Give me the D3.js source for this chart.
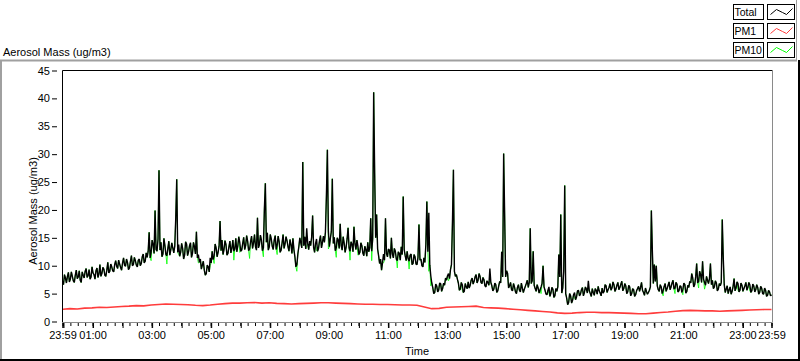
<!DOCTYPE html>
<html><head><meta charset="utf-8">
<script src="https://cdn.jsdelivr.net/npm/d3@7"></script>
<style>
html,body{margin:0;padding:0;background:#fff;}
svg{display:block;font-family:"Liberation Sans",Arial,sans-serif;font-size:11px;}
</style></head><body>
<svg id="chart" width="800" height="361"></svg>
<script>
// ---------- data ----------
const seriesNames = ["Total", "PM1", "PM10"];
const seriesColors = ["#000000", "#ff3c3c", "#00ff00"];
const startTime = "2000-01-01T23:59";
const endTime = "2000-01-02T23:59";
const yTicks = [0, 5, 10, 15, 20, 25, 30, 35, 40, 45];
const xTickLabels = ["23:59","01:00","03:00","05:00","07:00","09:00","11:00","13:00","15:00","17:00","19:00","21:00","23:00","23:59"];
const yTitle = "Aerosol Mass (ug/m3)";
const xTitle = "Time";

// Total, one reading every 2 minutes from 23:59
const totalStepMin = 2;
const totalValues = [
7.2,6.6,8.4,7.8,6.9,8.1,8.8,7.1,7.6,8.9,8.1,7.3,7.0,8.3,9.2,7.7,8.0,9.1,7.4,7.0,8.9,8.3,7.8,9.0,9.5,7.9,8.2,9.3,7.6,8.0,9.8,8.7,8.4,7.6,9.1,9.6,7.9,8.5,10.2,8.1,8.6,9.7,9.4,8.3,8.1,9.2,10.6,8.7,9.0,
10.3,9.8,9.1,8.9,10.2,10.9,9.9,9.5,11.0,10.3,9.7,9.2,10.5,11.4,10.1,9.9,11.2,10.6,9.3,9.6,10.8,11.8,10.0,10.2,11.5,10.9,10.1,9.8,11.0,11.2,10.0,10.4,11.6,12.1,10.5,10.8,12.3,11.5,12.6,16.0,
11.4,12.4,14.6,13.8,12.2,19.9,12.9,12.6,14.8,27.1,12.8,14.2,11.6,12.1,14.9,13.6,12.0,11.8,13.1,14.4,11.9,12.9,14.1,13.2,12.3,13.5,18.5,25.5,12.4,13.8,11.7,12.4,
14.0,13.1,11.2,11.9,14.3,13.9,11.8,12.5,13.6,14.1,11.5,12.2,14.2,13.4,12.1,16.1,11.4,12.0,10.6,11.2,9.4,10.1,10.8,9.2,8.3,8.6,10.1,9.8,8.9,11.4,10.5,12.6,
11.1,11.8,13.9,13.2,11.6,12.4,13.5,18.0,12.7,14.6,12.0,12.9,14.5,13.8,11.9,12.2,13.4,14.4,12.3,13.1,14.6,12.6,13.0,14.9,12.5,13.5,15.2,14.2,12.6,12.8,14.0,15.1,12.9,13.6,15.4,14.4,12.7,13.0,14.3,15.3,13.1,14.1,15.6,13.4,12.8,18.6,13.2,13.8,
15.5,14.6,12.7,13.2,20.1,24.8,14.2,15.9,12.8,13.4,15.6,14.8,13.5,12.9,14.6,15.4,12.9,13.7,15.3,14.3,12.4,12.8,14.1,15.6,13.1,13.9,15.2,14.5,13.4,12.6,14.7,13.8,12.2,14.9,12.9,11.6,9.8,10.2,12.1,13.4,15.0,14.1,13.2,28.6,13.6,15.2,13.0,16.7,14.0,12.9,
14.4,13.6,15.1,19.0,13.3,12.4,14.0,14.8,12.6,13.1,14.5,15.4,13.2,14.2,15.3,14.2,16.0,22.5,30.8,16.2,13.4,14.9,16.1,25.6,14.0,15.1,12.7,13.2,15.0,14.6,13.1,17.5,13.6,12.8,15.2,14.1,12.4,13.3,14.8,16.8,13.2,12.6,14.3,13.8,12.5,17.0,13.9,12.9,14.6,13.5,
12.0,12.4,14.1,13.6,12.3,11.8,13.5,12.9,11.7,14.2,12.5,13.2,18.5,12.6,14.8,41.1,26.7,15.0,19.2,13.0,11.8,10.4,11.2,9.2,10.6,12.1,11.0,18.5,12.2,11.6,13.0,12.8,11.3,15.0,12.1,11.4,13.1,12.6,11.2,10.9,12.5,12.2,11.0,13.4,12.0,22.4,12.9,11.8,10.9,12.6,
11.3,10.8,11.9,12.1,10.2,10.4,12.0,11.6,10.3,10.2,11.5,17.4,11.0,11.2,10.0,9.8,11.4,10.6,13.8,21.5,12.5,19.5,10.1,8.2,
6.9,6.1,5.0,5.2,6.7,6.4,5.3,5.6,6.9,6.8,5.4,5.9,6.9,6.5,7.8,7.4,8.2,8.6,7.7,9.3,10.2,17.7,27.2,9.0,8.1,8.4,
7.6,6.9,5.6,5.8,7.0,6.6,5.2,5.4,6.8,6.2,5.9,7.1,6.0,6.5,7.4,7.8,6.7,7.2,8.0,8.4,6.9,7.4,8.6,8.1,7.0,6.8,7.9,7.5,6.4,6.2,
7.3,7.0,6.5,9.5,7.0,6.4,5.5,5.8,6.9,6.6,5.2,5.5,6.4,7.2,6.9,12.5,8.0,30.1,19.2,8.0,9.1,8.6,6.0,6.4,7.0,5.7,5.5,6.8,6.2,5.3,
5.0,6.1,6.6,5.6,5.3,6.9,6.0,5.2,5.8,6.3,6.8,7.4,6.1,7.0,16.7,6.8,7.3,12.6,6.5,5.9,5.4,6.6,6.0,5.1,5.7,6.2,6.8,10.0,6.2,5.6,
4.9,4.8,5.6,6.2,4.5,5.1,6.1,5.8,4.3,4.6,5.9,5.4,6.2,12.0,8.0,19.2,5.1,6.0,9.0,24.4,5.0,4.2,3.0,3.4,5.0,4.6,3.3,3.8,4.8,5.2,3.9,4.4,5.5,5.6,
4.6,4.9,5.7,6.1,4.6,5.2,6.2,5.8,5.1,7.3,5.5,5.0,4.5,5.9,5.2,4.7,5.9,5.6,4.9,6.3,5.5,5.1,4.6,6.0,5.1,5.4,6.6,6.4,5.2,5.7,6.1,6.8,5.6,6.0,7.1,6.6,
5.4,5.8,6.5,7.0,5.7,6.1,6.7,7.2,5.5,5.9,6.8,6.4,5.0,5.3,6.5,6.2,4.6,5.0,5.9,5.7,4.5,4.8,5.5,5.9,6.3,5.4,6.1,7.0,5.6,5.2,4.7,6.0,5.4,4.9,5.2,5.6,
6.2,19.9,12.7,6.8,10.2,7.2,10.0,6.4,
5.7,5.4,6.6,6.2,5.0,5.6,6.3,6.8,5.4,5.9,6.5,7.1,5.7,6.2,6.9,7.4,5.8,6.0,7.0,6.7,5.3,5.5,6.4,6.3,5.2,5.8,6.9,6.6,5.1,5.4,6.5,6.1,
7.2,6.9,8.6,7.8,6.2,6.6,8.0,10.4,6.9,7.2,9.0,8.4,7.0,10.8,7.6,7.0,6.5,8.1,7.4,6.8,7.7,10.4,6.6,7.4,5.9,6.2,7.3,6.9,5.5,5.8,6.8,6.4,
7.0,18.3,11.5,6.6,5.2,5.8,6.4,5.0,5.7,6.2,4.9,5.4,6.3,7.7,5.5,6.0,7.1,6.8,5.3,5.6,6.9,6.5,5.4,5.9,6.4,7.0,5.6,6.1,7.0,6.6,
5.2,5.5,6.7,6.4,5.3,5.7,6.6,6.1,4.9,5.2,6.3,6.0,5.0,4.9,6.0,5.6,4.5,4.7,5.6,5.3,4.6,4.8
];

// PM10, one reading every 2 minutes from 23:59
const pm10StepMin = 2;
const pm10Values = [
7.2,6.6,8.4,7.8,6.9,8.1,8.8,7.1,7.6,8.9,8.1,7.3,7.0,8.3,9.2,7.7,8.0,9.1,7.4,7.0,8.9,8.3,7.8,9.0,9.5,7.9,8.2,9.3,7.6,8.0,9.8,8.7,8.4,7.6,9.1,9.6,7.9,8.5,10.2,8.1,8.6,9.7,9.4,8.3,8.1,9.2,10.6,8.7,9.0,
10.3,9.8,9.1,8.9,10.2,10.9,9.9,9.5,11.0,10.3,9.7,9.2,10.5,11.4,10.1,9.9,11.2,10.6,9.3,9.6,10.8,11.8,10.0,10.2,11.5,10.9,10.1,9.8,11.0,11.2,10.0,10.4,11.6,12.1,10.5,10.8,12.3,11.5,12.6,16.0,
11.4,10.9,14.6,13.8,12.2,19.9,12.9,12.6,14.8,27.1,12.8,14.2,11.6,12.1,14.9,13.6,12.0,10.3,13.1,14.4,11.9,12.9,14.1,13.2,12.3,13.5,18.5,25.5,12.4,12.0,11.7,12.4,
14.0,13.1,11.2,11.9,14.3,13.9,11.8,12.5,13.6,14.1,11.5,12.2,14.2,13.4,12.1,16.1,11.4,10.5,10.6,11.2,9.4,10.1,10.8,9.2,8.3,8.6,10.1,9.8,8.9,10.0,10.5,12.6,
11.1,10.4,13.9,13.2,11.6,12.4,13.5,18.0,12.7,14.6,12.0,12.9,14.5,13.8,11.9,12.2,13.4,14.4,12.3,13.1,14.6,11.0,13.0,14.9,12.5,13.5,15.2,12.4,12.6,12.8,14.0,15.1,12.9,13.6,15.4,14.4,12.7,11.3,14.3,15.3,13.1,14.1,15.6,13.4,12.8,18.6,13.2,13.8,
15.5,14.6,12.7,11.6,20.1,24.8,14.2,15.9,12.8,13.4,15.6,14.8,13.5,12.9,14.6,15.4,12.9,12.0,15.3,14.3,12.4,12.8,14.1,15.6,13.1,13.9,15.2,14.5,13.4,12.6,14.7,13.8,12.2,14.9,12.9,11.6,9.8,9.0,12.1,13.4,15.0,14.1,13.2,28.6,13.6,15.2,13.0,13.5,14.0,12.9,
14.4,13.6,15.1,19.0,13.3,12.4,14.0,12.7,12.6,13.1,14.5,15.4,13.2,14.2,15.3,14.2,16.0,22.5,30.8,13.0,13.4,14.9,16.1,25.6,14.0,15.1,12.7,11.5,15.0,14.6,13.1,17.5,13.6,12.8,15.2,14.1,12.4,13.3,14.8,16.8,13.2,11.0,14.3,13.8,12.5,17.0,13.9,12.9,14.6,11.9,
12.0,12.4,14.1,13.6,12.3,11.8,13.5,12.9,11.7,14.2,12.5,13.2,18.5,10.9,14.8,41.1,26.7,15.0,19.2,13.0,11.8,10.4,11.2,9.2,10.6,10.5,11.0,18.5,12.2,11.6,13.0,12.8,11.3,15.0,12.1,11.4,13.1,12.6,11.2,9.6,12.5,12.2,11.0,13.4,12.0,22.4,12.9,11.8,10.9,12.6,
11.3,9.4,11.9,12.1,10.2,10.4,12.0,11.6,10.3,10.2,11.5,17.4,11.0,11.2,10.0,9.8,11.4,10.6,13.8,21.5,12.5,9.0,10.1,6.4,
6.9,6.1,5.0,5.2,6.7,6.4,5.3,5.6,6.9,6.8,5.4,5.9,6.9,6.5,7.8,7.4,8.2,7.3,7.7,9.3,10.2,17.7,27.2,9.0,8.1,8.4,
7.6,6.9,5.6,5.8,7.0,5.6,5.2,5.4,6.8,6.2,5.9,7.1,6.0,6.5,7.4,7.8,6.7,7.2,8.0,8.4,6.9,7.4,8.6,8.1,7.0,6.8,7.9,7.5,6.4,6.2,
7.3,7.0,6.5,7.4,7.0,6.4,5.5,5.8,6.9,6.6,5.2,5.5,6.4,7.2,6.9,12.5,8.0,30.1,19.2,8.0,9.1,8.6,6.0,6.4,7.0,5.7,5.5,6.8,6.2,5.3,
5.0,6.1,6.6,5.6,5.3,6.9,6.0,5.2,5.8,6.3,6.8,7.4,6.1,7.0,16.7,6.8,7.3,12.6,6.5,5.9,5.4,6.6,6.0,5.1,5.7,5.0,6.8,10.0,6.2,5.6,
4.9,4.8,5.6,5.0,4.5,5.1,6.1,5.8,4.3,4.6,5.9,5.4,6.2,12.0,8.0,19.2,5.1,6.0,9.0,24.4,5.0,4.2,3.0,3.4,5.0,4.6,3.3,3.8,4.8,4.3,3.9,4.4,5.5,5.6,
4.6,4.9,5.7,6.1,4.6,5.2,6.2,5.8,5.1,5.8,5.5,5.0,4.5,5.9,5.2,4.7,5.9,5.6,4.9,6.3,5.5,5.1,4.6,6.0,5.1,5.4,6.6,6.4,5.2,5.7,6.1,6.8,5.6,6.0,7.1,6.6,
5.4,5.8,6.5,7.0,5.7,6.1,6.7,7.2,5.5,5.9,6.8,6.4,5.0,5.3,6.5,6.2,4.6,5.0,5.9,5.7,4.5,4.8,5.5,5.9,6.3,5.4,6.1,7.0,5.6,5.2,4.7,6.0,5.4,4.9,5.2,5.6,
6.2,19.9,12.7,6.8,10.2,7.2,10.0,6.4,
5.7,5.4,6.6,6.2,5.0,4.6,6.3,6.8,5.4,5.9,6.5,7.1,5.7,6.2,6.9,7.4,5.8,5.0,7.0,6.7,5.3,5.5,6.4,6.3,5.2,4.8,6.9,6.6,5.1,5.4,6.5,6.1,
7.2,6.9,8.6,7.8,6.2,6.6,8.0,10.4,6.9,6.0,9.0,8.4,7.0,10.8,7.6,5.8,6.5,8.1,7.4,6.8,7.7,10.4,6.6,7.4,5.9,6.2,7.3,6.9,5.5,5.8,6.8,6.4,
7.0,18.3,11.5,6.6,5.2,5.8,6.4,5.0,5.7,6.2,4.9,5.4,6.3,7.7,5.5,6.0,7.1,5.6,5.3,5.6,6.9,6.5,5.4,5.9,6.4,7.0,5.6,6.1,7.0,5.5,
5.2,5.5,6.7,6.4,5.3,5.7,6.6,6.1,4.9,5.2,6.3,6.0,5.0,4.9,6.0,5.6,4.5,4.7,5.6,5.3,4.6,4.8
];

// PM1, one reading every 15 minutes from 23:59
const pm1StepMin = 15;
const pm1Values = [
2.2,2.3,2.25,2.4,2.45,2.55,2.5,2.6,2.7,2.75,2.85,2.8,2.95,3.05,3.15,3.1,3.05,3.0,2.9,2.85,
2.95,3.1,3.2,3.3,3.3,3.35,3.4,3.3,3.35,3.25,3.2,3.15,3.2,3.25,3.3,3.35,3.35,3.3,3.25,3.2,
3.15,3.1,3.1,3.05,3.05,3.0,2.95,2.95,2.9,2.6,2.3,2.35,2.55,2.6,2.65,2.7,2.75,2.5,2.45,2.4,
2.3,2.2,2.1,2.0,1.9,1.8,1.7,1.55,1.45,1.5,1.6,1.65,1.65,1.6,1.6,1.55,1.5,1.45,1.4,1.4,
1.5,1.6,1.7,1.85,1.95,2.0,1.95,1.9,1.9,1.85,1.9,1.95,2.0,2.05,2.1,2.15,2.15
];

// ---------- chart ----------
const svg = d3.select("#chart");
const parse = d3.timeParse("%Y-%m-%dT%H:%M");
const t0 = parse(startTime), t1 = parse(endTime);

const plot = {left: 62.5, right: 771.5, top: 70.5, bottom: 321.5};
const x = d3.scaleTime().domain([t0, t1]).range([plot.left, plot.right]);
const y = d3.scaleLinear().domain([0, 45]).range([plot.bottom, plot.top]);

// outer panel frame
svg.append("line").attr("x1",0).attr("x2",797).attr("y1",60.5).attr("y2",60.5).attr("stroke","#a0a0a0").attr("stroke-width",2);
svg.append("line").attr("x1",1).attr("x2",1).attr("y1",60).attr("y2",361).attr("stroke","#a0a0a0").attr("stroke-width",2);
svg.append("line").attr("x1",0).attr("x2",800).attr("y1",360).attr("y2",360).attr("stroke","#000").attr("stroke-width",2);
svg.append("line").attr("x1",799).attr("x2",799).attr("y1",60).attr("y2",361).attr("stroke","#000").attr("stroke-width",2);
svg.append("line").attr("x1",796.5).attr("x2",796.5).attr("y1",0).attr("y2",60).attr("stroke","#a0a0a0");

// title at top-left
svg.append("text").attr("x",3).attr("y",56).text(yTitle);

// legend
const leg = svg.append("g");
seriesNames.forEach((name, k) => {
  const yy = 4.5 + k * 19;
  leg.append("rect").attr("x",733.5).attr("y",yy).attr("width",30).attr("height",15)
    .attr("fill","#fff").attr("stroke","#000");
  leg.append("text").attr("x",734.5).attr("y",yy+11.5).attr("font-size",10.5).text(name);
  leg.append("rect").attr("x",767.5).attr("y",yy).attr("width",27).attr("height",15)
    .attr("fill","#fff").attr("stroke","#000");
  const zig = [[3,10],[9,5],[15,8],[19,10],[25,4]];
  leg.append("path")
    .attr("d", d3.line()(zig.map(p => [767.5 + p[0], yy + p[1]])))
    .attr("fill","none").attr("stroke", seriesColors[k]);
});

// plot frame
svg.append("line").attr("x1",plot.left).attr("x2",plot.right+1).attr("y1",plot.top).attr("y2",plot.top).attr("stroke","#000");
svg.append("line").attr("x1",plot.left).attr("x2",plot.left).attr("y1",plot.top).attr("y2",plot.bottom+1).attr("stroke","#000");
svg.append("line").attr("x1",plot.right+1).attr("x2",plot.right+1).attr("y1",plot.top).attr("y2",plot.bottom+1).attr("stroke","#8a8a8a");
svg.append("line").attr("x1",plot.left).attr("x2",plot.right+1).attr("y1",plot.bottom+1).attr("y2",plot.bottom+1).attr("stroke","#8a8a8a");

// y axis (ticks sit slightly left of the plot frame)
const yAxisG = svg.append("g").attr("transform","translate(57,0)")
  .call(d3.axisLeft(y).tickValues(yTicks).tickSize(5).tickSizeOuter(0).tickPadding(2).tickFormat(d3.format("d")));
yAxisG.select(".domain").remove();
yAxisG.selectAll("text").attr("font-family",'"Liberation Sans",Arial,sans-serif').attr("font-size",11).attr("fill","#000");
yAxisG.selectAll("line").attr("stroke","#000");

// x axis ticks
const xBase = plot.bottom + 1.5;
const minorTicks = d3.timeMinute.every(15).range(t0, t1).concat([t0, t1]);
const hourTicks = d3.timeHour.every(1).range(t0, t1).map(d => d3.timeMinute.offset(d, 1)).filter(d => d < t1);
const labelTicks = xTickLabels.map((s, k) => k === 0 ? t0 : (k === xTickLabels.length - 1 ? t1 : parse("2000-01-02T" + s)));

const minorG = svg.append("g").attr("transform",`translate(0,${xBase})`)
  .call(d3.axisBottom(x).tickValues(minorTicks).tickSize(3).tickSizeOuter(0).tickFormat(""));
const hourG = svg.append("g").attr("transform",`translate(0,${xBase})`)
  .call(d3.axisBottom(x).tickValues(hourTicks.concat([t0,t1])).tickSize(5).tickSizeOuter(0).tickFormat(""));
const labelG = svg.append("g").attr("transform",`translate(0,${xBase})`)
  .call(d3.axisBottom(x).tickValues(labelTicks).tickSize(5).tickSizeOuter(0).tickPadding(3)
    .tickFormat((d, k) => xTickLabels[k]));
[minorG, hourG, labelG].forEach(g => {
  g.select(".domain").remove();
  g.selectAll("line").attr("stroke","#000");
  g.selectAll("text").attr("font-family",'"Liberation Sans",Arial,sans-serif').attr("font-size",11).attr("fill","#000");
});

// axis titles
svg.append("text").attr("x", (plot.left + plot.right) / 2).attr("y", 355).attr("text-anchor","middle").text(xTitle);
svg.append("text").attr("transform","translate(37,211) rotate(-90)").attr("text-anchor","middle").text(yTitle);

// series
svg.append("clipPath").attr("id","pc").append("rect")
  .attr("x",plot.left+0.5).attr("y",plot.top+0.5).attr("width",plot.right-plot.left).attr("height",plot.bottom-plot.top);
const mk = (vals, step) => vals.map((v, i) => ({t: d3.timeMinute.offset(t0, i * step), v}));
const line = d3.line().x(d => x(d.t)).y(d => y(d.v));
const dataG = svg.append("g").attr("clip-path","url(#pc)");
dataG.append("path").datum(mk(pm1Values, pm1StepMin)).attr("d", line)
  .attr("fill","none").attr("stroke", seriesColors[1]).attr("stroke-width",1.6);
dataG.append("path").datum(mk(pm10Values, pm10StepMin)).attr("d", line)
  .attr("fill","none").attr("stroke", seriesColors[2]).attr("stroke-width",0.8)
  .attr("stroke-linejoin","bevel");
dataG.append("path").datum(mk(totalValues, totalStepMin)).attr("d", line)
  .attr("fill","none").attr("stroke", seriesColors[0]).attr("stroke-width",1.4)
  .attr("stroke-linejoin","bevel");
</script>
</body></html>
